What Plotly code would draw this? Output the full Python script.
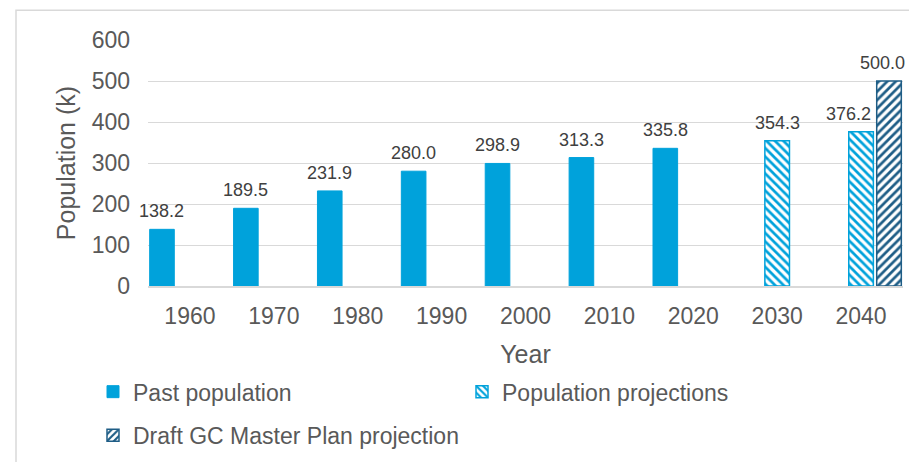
import plotly.graph_objects as go

years = ["1960", "1970", "1980", "1990", "2000", "2010", "2020", "2030", "2040"]
past_years = ["1960", "1970", "1980", "1990", "2000", "2010", "2020"]
past_values = [138.2, 189.5, 231.9, 280.0, 298.9, 313.3, 335.8]
proj_years = ["2030", "2040"]
proj_values = [354.3, 376.2]
draft_years = ["2040"]
draft_values = [500.0]

series_names = ["Past population", "Population projections", "Draft GC Master Plan projection"]
y_ticks = [0, 100, 200, 300, 400, 500, 600]

C_PAST = "#00A2DB"
C_DRAFT = "#1E5D86"
FONT = "Arial, Liberation Sans, sans-serif"
GRAY = "#595959"

fig = go.Figure()
fig.add_trace(go.Bar(
    x=past_years, y=past_values, name=series_names[0],
    marker=dict(color=C_PAST, line=dict(color=C_PAST, width=1)),
    legend="legend",
))
fig.add_trace(go.Bar(
    x=proj_years, y=proj_values, name=series_names[1],
    marker=dict(color="white", line=dict(color=C_PAST, width=1.5),
                pattern=dict(shape="\\", fgcolor=C_PAST, bgcolor="white",
                             size=6, solidity=0.45, fillmode="replace")),
    legend="legend",
))
fig.add_trace(go.Bar(
    x=draft_years, y=draft_values, name=series_names[2],
    marker=dict(color="white", line=dict(color=C_DRAFT, width=1.5),
                pattern=dict(shape="/", fgcolor=C_DRAFT, bgcolor="white",
                             size=6, solidity=0.45, fillmode="replace")),
    legend="legend2",
))

# data labels above each bar (slot offsets for grouped bars)
slot = [-1/3, 0, 1/3]
label_xshift = {("Population projections", "2040"): -13,
                ("Draft GC Master Plan projection", "2040"): -7}
annotations = []
for k, (xs, vs) in enumerate([(past_years, past_values), (proj_years, proj_values), (draft_years, draft_values)]):
    for xv, v in zip(xs, vs):
        annotations.append(dict(
            x=years.index(xv) + slot[k], y=v, xref="x", yref="y",
            text=f"{v:.1f}", showarrow=False, yanchor="bottom",
            yshift=6, xshift=label_xshift.get((series_names[k], xv), 0),
            font=dict(family=FONT, size=18, color="#404040"),
        ))

L, R, T, B = 148, 6, 40, 173
W, H = 909, 462
pw, ph = W - L - R, H - T - B

def px_x(p):
    return (p - L) / pw

def px_y(p):
    return (H - B - p) / ph

fig.update_layout(
    width=W, height=H,
    margin=dict(l=L, r=R, t=T, b=B, pad=0),
    paper_bgcolor="white", plot_bgcolor="white",
    font=dict(family=FONT, color=GRAY),
    barmode="group", bargap=0, bargroupgap=0.12,
    showlegend=True,
    legend=dict(orientation="h", x=px_x(93), xanchor="left", y=px_y(396), yanchor="middle",
                font=dict(family=FONT, size=23, color=GRAY), entrywidth=324,
                bgcolor="rgba(0,0,0,0)", traceorder="normal"),
    legend2=dict(orientation="h", x=px_x(93), xanchor="left", y=px_y(440), yanchor="middle",
                 font=dict(family=FONT, size=23, color=GRAY),
                 bgcolor="rgba(0,0,0,0)"),
    annotations=annotations,
    shapes=[dict(type="rect", xref="paper", yref="paper",
                 x0=px_x(16), x1=1.3, y0=-1.0, y1=px_y(10),
                 line=dict(color="#D9D9D9", width=1.5), layer="below")],
    xaxis=dict(
        type="category", categoryorder="array", categoryarray=years,
        range=[-0.5, len(years) - 0.5],
        showline=True, linecolor="#D9D9D9", linewidth=2,
        showgrid=False, ticks="", automargin=False,
        tickfont=dict(family=FONT, size=23, color=GRAY), ticklabelstandoff=8,
        title=dict(text="Year", font=dict(family=FONT, size=25, color=GRAY), standoff=18),
    ),
    yaxis=dict(
        range=[0, 600], tickvals=y_ticks, showgrid=True, gridcolor="#D9D9D9", gridwidth=1.3,
        zeroline=False, showline=False, ticks="", automargin=False,
        tickfont=dict(family=FONT, size=23, color=GRAY), ticklabelstandoff=17,
        title=dict(text="Population (k)", font=dict(family=FONT, size=25, color=GRAY), standoff=8),
    ),
)

fig.write_html("out.html")
